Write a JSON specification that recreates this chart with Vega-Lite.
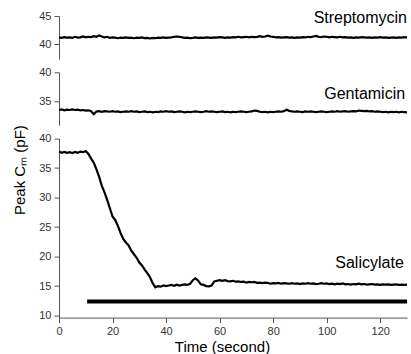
{
  "$schema": "https://vega.github.io/schema/vega-lite/v6.json",
  "padding": {"left": 12, "top": 9, "right": 5, "bottom": 0},
  "bounds": "flush",
  "spacing": 13.3,
  "background": "white",
  "config": {
    "font": "Liberation Sans",
    "view": {"stroke": null},
    "axis": {
      "domainColor": "#555",
      "tickColor": "#555",
      "labelColor": "#333",
      "labelFont": "Liberation Sans",
      "labelFontSize": 11,
      "labelOverlap": false,
      "grid": false,
      "tickSize": 5,
      "labelPadding": 3,
      "titleFontWeight": "normal",
      "titleColor": "#000",
      "titleFont": "Liberation Sans",
      "titleFontSize": 15
    }
  },
  "datasets": {
    "strep": [
      {"t":0,"v":41.2},{"t":1,"v":41.1},{"t":2,"v":41.25},{"t":3,"v":41.15},{"t":4,"v":41.2},{"t":5,"v":41.1},{"t":6,"v":41.3},{"t":7,"v":41.15},{"t":8,"v":41.2},{"t":9,"v":41.35},
      {"t":10,"v":41.2},{"t":11,"v":41.3},{"t":12,"v":41.25},{"t":13,"v":41.4},{"t":14,"v":41.3},{"t":15,"v":41.55},{"t":16,"v":41.35},{"t":17,"v":41.2},{"t":18,"v":41.3},{"t":19,"v":41.1},
      {"t":20,"v":41.2},{"t":21,"v":41.15},{"t":22,"v":41.05},{"t":23,"v":41.15},{"t":24,"v":41.1},{"t":25,"v":41.2},{"t":26,"v":41.1},{"t":27,"v":41.15},{"t":28,"v":41.05},{"t":29,"v":41.15},
      {"t":30,"v":41.1},{"t":31,"v":41.2},{"t":32,"v":41.05},{"t":33,"v":41.1},{"t":34,"v":41.0},{"t":35,"v":41.1},{"t":36,"v":41.05},{"t":37,"v":41.15},{"t":38,"v":41.1},{"t":39,"v":41.2},
      {"t":40,"v":41.1},{"t":41,"v":41.15},{"t":42,"v":41.2},{"t":43,"v":41.3},{"t":44,"v":41.35},{"t":45,"v":41.3},{"t":46,"v":41.2},{"t":47,"v":41.1},{"t":48,"v":41.15},{"t":49,"v":41.05},
      {"t":50,"v":41.1},{"t":51,"v":41.2},{"t":52,"v":41.1},{"t":53,"v":41.15},{"t":54,"v":41.1},{"t":55,"v":41.2},{"t":56,"v":41.15},{"t":57,"v":41.1},{"t":58,"v":41.2},{"t":59,"v":41.15},
      {"t":60,"v":41.25},{"t":61,"v":41.2},{"t":62,"v":41.1},{"t":63,"v":41.2},{"t":64,"v":41.15},{"t":65,"v":41.25},{"t":66,"v":41.2},{"t":67,"v":41.3},{"t":68,"v":41.2},{"t":69,"v":41.25},
      {"t":70,"v":41.3},{"t":71,"v":41.2},{"t":72,"v":41.3},{"t":73,"v":41.25},{"t":74,"v":41.3},{"t":75,"v":41.4},{"t":76,"v":41.3},{"t":77,"v":41.35},{"t":78,"v":41.5},{"t":79,"v":41.35},
      {"t":80,"v":41.3},{"t":81,"v":41.2},{"t":82,"v":41.25},{"t":83,"v":41.15},{"t":84,"v":41.2},{"t":85,"v":41.25},{"t":86,"v":41.15},{"t":87,"v":41.2},{"t":88,"v":41.1},{"t":89,"v":41.2},
      {"t":90,"v":41.15},{"t":91,"v":41.25},{"t":92,"v":41.2},{"t":93,"v":41.3},{"t":94,"v":41.25},{"t":95,"v":41.35},{"t":96,"v":41.45},{"t":97,"v":41.3},{"t":98,"v":41.25},{"t":99,"v":41.35},
      {"t":100,"v":41.3},{"t":101,"v":41.2},{"t":102,"v":41.3},{"t":103,"v":41.25},{"t":104,"v":41.2},{"t":105,"v":41.3},{"t":106,"v":41.2},{"t":107,"v":41.25},{"t":108,"v":41.15},{"t":109,"v":41.2},
      {"t":110,"v":41.1},{"t":111,"v":41.2},{"t":112,"v":41.15},{"t":113,"v":41.25},{"t":114,"v":41.2},{"t":115,"v":41.15},{"t":116,"v":41.2},{"t":117,"v":41.1},{"t":118,"v":41.2},{"t":119,"v":41.15},
      {"t":120,"v":41.25},{"t":121,"v":41.15},{"t":122,"v":41.2},{"t":123,"v":41.1},{"t":124,"v":41.15},{"t":125,"v":41.2},{"t":126,"v":41.1},{"t":127,"v":41.2},{"t":128,"v":41.15},{"t":129,"v":41.25},{"t":130,"v":41.2}
    ],
    "gent": [
      {"t":0,"v":33.6},{"t":1,"v":33.7},{"t":2,"v":33.55},{"t":3,"v":33.65},{"t":4,"v":33.6},{"t":5,"v":33.7},{"t":6,"v":33.6},{"t":7,"v":33.65},{"t":8,"v":33.55},{"t":9,"v":33.6},
      {"t":10,"v":33.5},{"t":11,"v":33.55},{"t":12,"v":33.4},{"t":13,"v":32.9},{"t":14,"v":33.35},{"t":15,"v":33.4},{"t":16,"v":33.3},{"t":17,"v":33.4},{"t":18,"v":33.35},{"t":19,"v":33.3},
      {"t":20,"v":33.4},{"t":21,"v":33.3},{"t":22,"v":33.35},{"t":23,"v":33.25},{"t":24,"v":33.3},{"t":25,"v":33.35},{"t":26,"v":33.3},{"t":27,"v":33.4},{"t":28,"v":33.3},{"t":29,"v":33.35},
      {"t":30,"v":33.25},{"t":31,"v":33.3},{"t":32,"v":33.35},{"t":33,"v":33.25},{"t":34,"v":33.3},{"t":35,"v":33.2},{"t":36,"v":33.3},{"t":37,"v":33.25},{"t":38,"v":33.35},{"t":39,"v":33.3},
      {"t":40,"v":33.4},{"t":41,"v":33.3},{"t":42,"v":33.35},{"t":43,"v":33.25},{"t":44,"v":33.3},{"t":45,"v":33.35},{"t":46,"v":33.3},{"t":47,"v":33.2},{"t":48,"v":33.3},{"t":49,"v":33.25},
      {"t":50,"v":33.3},{"t":51,"v":33.35},{"t":52,"v":33.3},{"t":53,"v":33.25},{"t":54,"v":33.3},{"t":55,"v":33.4},{"t":56,"v":33.3},{"t":57,"v":33.35},{"t":58,"v":33.3},{"t":59,"v":33.25},
      {"t":60,"v":33.3},{"t":61,"v":33.35},{"t":62,"v":33.25},{"t":63,"v":33.3},{"t":64,"v":33.2},{"t":65,"v":33.3},{"t":66,"v":33.25},{"t":67,"v":33.3},{"t":68,"v":33.35},{"t":69,"v":33.3},
      {"t":70,"v":33.25},{"t":71,"v":33.3},{"t":72,"v":33.35},{"t":73,"v":33.5},{"t":74,"v":33.45},{"t":75,"v":33.3},{"t":76,"v":33.25},{"t":77,"v":33.3},{"t":78,"v":33.2},{"t":79,"v":33.3},
      {"t":80,"v":33.25},{"t":81,"v":33.3},{"t":82,"v":33.35},{"t":83,"v":33.3},{"t":84,"v":33.4},{"t":85,"v":33.65},{"t":86,"v":33.45},{"t":87,"v":33.35},{"t":88,"v":33.3},{"t":89,"v":33.35},
      {"t":90,"v":33.3},{"t":91,"v":33.25},{"t":92,"v":33.35},{"t":93,"v":33.3},{"t":94,"v":33.35},{"t":95,"v":33.3},{"t":96,"v":33.25},{"t":97,"v":33.3},{"t":98,"v":33.35},{"t":99,"v":33.3},
      {"t":100,"v":33.25},{"t":101,"v":33.3},{"t":102,"v":33.35},{"t":103,"v":33.3},{"t":104,"v":33.4},{"t":105,"v":33.3},{"t":106,"v":33.35},{"t":107,"v":33.4},{"t":108,"v":33.3},{"t":109,"v":33.35},
      {"t":110,"v":33.4},{"t":111,"v":33.35},{"t":112,"v":33.5},{"t":113,"v":33.45},{"t":114,"v":33.4},{"t":115,"v":33.45},{"t":116,"v":33.35},{"t":117,"v":33.4},{"t":118,"v":33.3},{"t":119,"v":33.35},
      {"t":120,"v":33.3},{"t":121,"v":33.25},{"t":122,"v":33.3},{"t":123,"v":33.2},{"t":124,"v":33.3},{"t":125,"v":33.25},{"t":126,"v":33.3},{"t":127,"v":33.2},{"t":128,"v":33.3},{"t":129,"v":33.25},{"t":130,"v":33.2}
    ],
    "sal": [
      {"t":0,"v":37.8},{"t":1,"v":37.6},{"t":2,"v":37.75},{"t":3,"v":37.6},{"t":4,"v":37.7},{"t":5,"v":37.55},{"t":6,"v":37.75},{"t":7,"v":37.6},{"t":8,"v":37.8},{"t":9,"v":37.7},
      {"t":10,"v":37.9},{"t":11,"v":37.4},{"t":12,"v":36.6},{"t":13,"v":35.9},{"t":14,"v":34.8},{"t":15,"v":33.5},{"t":16,"v":32.0},{"t":17,"v":30.9},{"t":18,"v":29.6},{"t":19,"v":28.2},
      {"t":20,"v":26.8},{"t":21,"v":26.2},{"t":22,"v":25.2},{"t":23,"v":24.0},{"t":24,"v":23.0},{"t":25,"v":22.4},{"t":26,"v":21.9},{"t":27,"v":21.0},{"t":28,"v":20.4},{"t":29,"v":19.8},
      {"t":30,"v":19.0},{"t":31,"v":18.5},{"t":32,"v":17.8},{"t":33,"v":17.2},{"t":34,"v":16.5},{"t":35,"v":15.5},{"t":36,"v":14.8},{"t":37,"v":15.0},{"t":38,"v":14.9},{"t":39,"v":15.1},
      {"t":40,"v":15.0},{"t":41,"v":15.1},{"t":42,"v":15.2},{"t":43,"v":15.05},{"t":44,"v":15.25},{"t":45,"v":15.1},{"t":46,"v":15.2},{"t":47,"v":15.3},{"t":48,"v":15.2},{"t":49,"v":15.4},
      {"t":50,"v":16.0},{"t":51,"v":16.3},{"t":52,"v":15.9},{"t":53,"v":15.3},{"t":54,"v":15.2},{"t":55,"v":15.0},{"t":56,"v":14.95},{"t":57,"v":15.1},{"t":58,"v":15.8},{"t":59,"v":15.9},
      {"t":60,"v":16.0},{"t":61,"v":15.9},{"t":62,"v":16.0},{"t":63,"v":15.85},{"t":64,"v":15.8},{"t":65,"v":15.9},{"t":66,"v":15.75},{"t":67,"v":15.8},{"t":68,"v":15.7},{"t":69,"v":15.75},
      {"t":70,"v":15.6},{"t":71,"v":15.7},{"t":72,"v":15.65},{"t":73,"v":15.7},{"t":74,"v":15.55},{"t":75,"v":15.6},{"t":76,"v":15.5},{"t":77,"v":15.6},{"t":78,"v":15.55},{"t":79,"v":15.4},
      {"t":80,"v":15.5},{"t":81,"v":15.45},{"t":82,"v":15.55},{"t":83,"v":15.4},{"t":84,"v":15.5},{"t":85,"v":15.45},{"t":86,"v":15.4},{"t":87,"v":15.5},{"t":88,"v":15.4},{"t":89,"v":15.45},
      {"t":90,"v":15.35},{"t":91,"v":15.45},{"t":92,"v":15.4},{"t":93,"v":15.5},{"t":94,"v":15.4},{"t":95,"v":15.45},{"t":96,"v":15.35},{"t":97,"v":15.4},{"t":98,"v":15.5},{"t":99,"v":15.4},
      {"t":100,"v":15.45},{"t":101,"v":15.35},{"t":102,"v":15.4},{"t":103,"v":15.3},{"t":104,"v":15.4},{"t":105,"v":15.35},{"t":106,"v":15.45},{"t":107,"v":15.3},{"t":108,"v":15.35},{"t":109,"v":15.25},
      {"t":110,"v":15.35},{"t":111,"v":15.3},{"t":112,"v":15.4},{"t":113,"v":15.3},{"t":114,"v":15.35},{"t":115,"v":15.25},{"t":116,"v":15.3},{"t":117,"v":15.35},{"t":118,"v":15.25},{"t":119,"v":15.3},
      {"t":120,"v":15.2},{"t":121,"v":15.3},{"t":122,"v":15.25},{"t":123,"v":15.3},{"t":124,"v":15.2},{"t":125,"v":15.25},{"t":126,"v":15.3},{"t":127,"v":15.2},{"t":128,"v":15.25},{"t":129,"v":15.2},{"t":130,"v":15.25}
    ]
  },
  "vconcat": [
    {
      "width": 348,
      "height": 43,
      "layer": [
        {
          "data": {"name": "strep"},
          "mark": {"type": "line", "color": "#000", "strokeWidth": 2.2},
          "encoding": {
            "x": {"field": "t", "type": "quantitative", "scale": {"domain": [0, 130], "nice": false}, "axis": null},
            "y": {"field": "v", "type": "quantitative", "scale": {"domain": [37.35, 45], "nice": false, "zero": false}, "axis": {"values": [40, 45], "title": null}}
          }
        },
        {
          "data": {"values": [{}]},
          "mark": {"type": "text", "align": "right", "baseline": "alphabetic", "fontSize": 16, "color": "#000"},
          "encoding": {"x": {"datum": 130}, "y": {"datum": 43.8}, "text": {"value": "Streptomycin"}}
        }
      ]
    },
    {
      "width": 348,
      "height": 53,
      "layer": [
        {
          "data": {"name": "gent"},
          "mark": {"type": "line", "color": "#000", "strokeWidth": 2.2},
          "encoding": {
            "x": {"field": "t", "type": "quantitative", "scale": {"domain": [0, 130], "nice": false}, "axis": null},
            "y": {"field": "v", "type": "quantitative", "scale": {"domain": [31, 40], "nice": false, "zero": false}, "axis": {"values": [35, 40], "title": null}}
          }
        },
        {
          "data": {"values": [{}]},
          "mark": {"type": "text", "align": "right", "baseline": "alphabetic", "fontSize": 16, "color": "#000"},
          "encoding": {"x": {"datum": 129.3}, "y": {"datum": 35.45}, "text": {"value": "Gentamicin"}}
        }
      ]
    },
    {
      "width": 348,
      "height": 179,
      "layer": [
        {
          "data": {"name": "sal"},
          "mark": {"type": "line", "color": "#000", "strokeWidth": 2.2},
          "encoding": {
            "x": {"field": "t", "type": "quantitative", "scale": {"domain": [0, 130], "nice": false},
                  "axis": {"values": [0, 20, 40, 60, 80, 100, 120], "title": "Time (second)", "labelFlush": false, "labelPadding": 3, "titleX": 163, "titlePadding": 3}},
            "y": {"field": "v", "type": "quantitative", "scale": {"domain": [9.66, 40], "nice": false, "zero": false},
                  "axis": {"values": [10, 15, 20, 25, 30, 35, 40], "tickCount": 7, "title": "Peak Cₘ (pF)", "titleX": -34.5, "titleY": 31, "titleAlign": "center", "titleBaseline": "alphabetic", "titleAngle": -90}}
          }
        },
        {
          "data": {"values": [{}]},
          "mark": {"type": "rule", "strokeWidth": 4, "color": "#000"},
          "encoding": {
            "x": {"datum": 10.5},
            "x2": {"datum": 130},
            "y": {"datum": 12.4, "axis": {"values": [10, 15, 20, 25, 30, 35, 40], "tickCount": 7, "title": "Peak Cₘ (pF)", "titleX": -34.5, "titleY": 31, "titleAlign": "center", "titleBaseline": "alphabetic", "titleAngle": -90}}
          }
        },
        {
          "data": {"values": [{}]},
          "mark": {"type": "text", "align": "right", "baseline": "alphabetic", "fontSize": 16, "color": "#000"},
          "encoding": {
            "x": {"datum": 128.8},
            "y": {"datum": 18.07, "axis": {"values": [10, 15, 20, 25, 30, 35, 40], "tickCount": 7, "title": "Peak Cₘ (pF)", "titleX": -34.5, "titleY": 31, "titleAlign": "center", "titleBaseline": "alphabetic", "titleAngle": -90}},
            "text": {"value": "Salicylate"}
          }
        }
      ]
    }
  ]
}
